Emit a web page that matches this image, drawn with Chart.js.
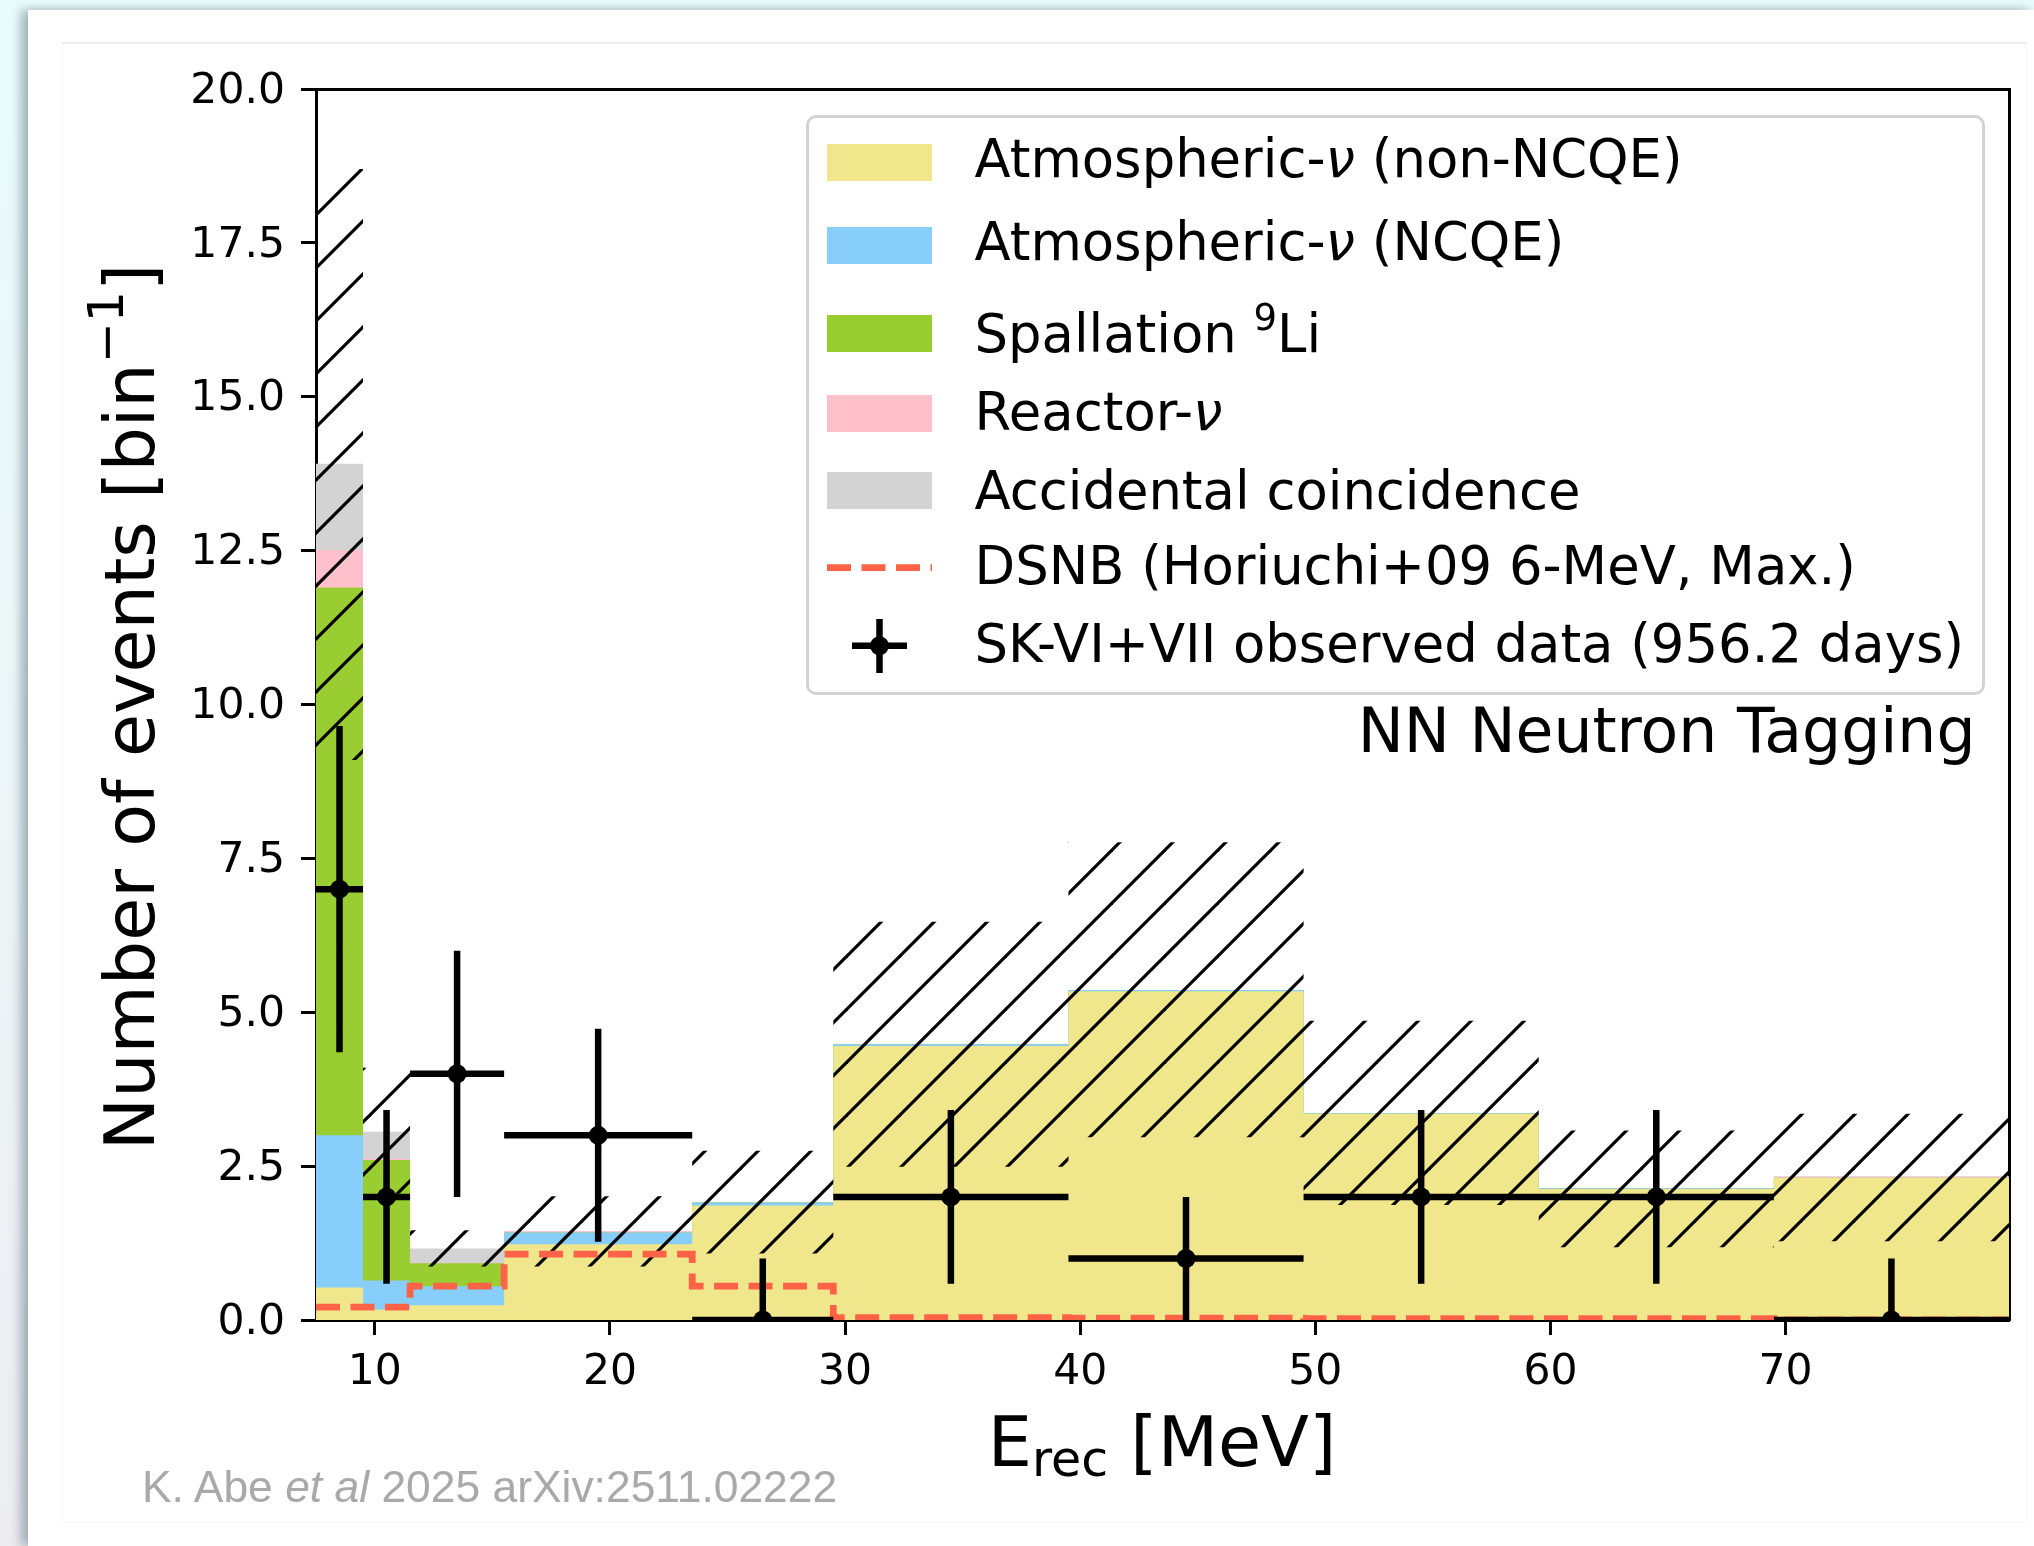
<!DOCTYPE html>
<html>
<head>
<meta charset="utf-8">
<script src="https://cdn.jsdelivr.net/npm/chart.js@4.4.1/dist/chart.umd.min.js"></script>
<style>
html, body { margin:0; padding:0; width:2034px; height:1546px; overflow:hidden; }
body { position:relative; background:linear-gradient(to bottom, #e9fcfc 0%, #edf5f7 55%, #ececf1 100%); font-family:"DejaVu Sans", sans-serif; }
#card { position:absolute; left:28px; top:10px; right:0; bottom:0; background:#fff;
        box-shadow:-7px 0 10px rgba(70,95,105,0.45), 0 -2px 4px rgba(0,0,0,0.04); }
#inner { position:absolute; left:62px; top:42px; width:1965px; height:1481px; box-sizing:border-box;
         border-top:2px solid #ebebeb; border-left:1px solid #f8f8f8; border-right:1px solid #f6f6f6; border-bottom:1px solid #f6f6f6; }
#chart { position:absolute; left:0; top:0; }
.t { position:absolute; white-space:nowrap; font-family:"DejaVu Sans", sans-serif; color:#000; line-height:normal; }
#legend { position:absolute; left:806px; top:115px; width:1179px; height:580px; box-sizing:border-box;
          border:3px solid #d3d3d3; border-radius:10px; background:rgba(255,255,255,0.8); }
.sw { position:absolute; left:827px; width:105px; height:37px; }
.lt { font-size:52.8px; left:974.5px; }
#cite { position:absolute; left:142px; top:1461.8px; font-family:"Liberation Sans", Arial, sans-serif; font-size:44.4px; color:#a9a9a9; white-space:nowrap; line-height:normal; }
</style>
</head>
<body>
<div id="card"></div>
<div id="inner"></div>
<canvas id="chart" width="2034" height="1546"></canvas>

<div id="legend"></div>
<div class="sw" style="top:144px; background:#F0E68C;"></div>
<div class="sw" style="top:227px; background:#87CEFA;"></div>
<div class="sw" style="top:315px; background:#9ACD32;"></div>
<div class="sw" style="top:395px; background:#FFC0CB;"></div>
<div class="sw" style="top:472px; background:#D3D3D3;"></div>
<svg style="position:absolute;left:0;top:0;" width="2034" height="800">
  <line x1="827" y1="567.6" x2="932" y2="567.6" stroke="#FF6347" stroke-width="6.8" stroke-dasharray="24 10.5"/>
  <line x1="879.5" y1="619" x2="879.5" y2="673" stroke="#000" stroke-width="6.5"/>
  <line x1="852" y1="645.7" x2="907" y2="645.7" stroke="#000" stroke-width="6.5"/>
  <circle cx="879.5" cy="645.7" r="9.5" fill="#000"/>
</svg>
<div class="t lt" style="top:128px;">Atmospheric-<i>ν</i> (non-NCQE)</div>
<div class="t lt" style="top:210.5px;">Atmospheric-<i>ν</i> (NCQE)</div>
<div class="t lt" style="top:302.5px;">Spallation <span style="font-size:0.7em;position:relative;top:-0.58em;">9</span>Li</div>
<div class="t lt" style="top:381px;">Reactor-<i>ν</i></div>
<div class="t lt" style="top:459.5px;">Accidental coincidence</div>
<div class="t lt" style="top:535px;">DSNB (Horiuchi+09 6-MeV, Max.)</div>
<div class="t lt" style="top:613px;">SK-VI+VII observed data (956.2 days)</div>

<div class="t" style="font-size:61.6px; right:58.5px; top:694.8px;">NN Neutron Tagging</div>

<div class="t" style="font-size:70px; left:1162px; top:1401px; transform:translateX(-50%);">E<span style="font-size:0.7em;position:relative;top:0.2em;">rec</span> [MeV]</div>
<div class="t" style="font-size:70px; left:-420.2px; top:666.3px; width:1100px; text-align:center; transform:rotate(-90deg);">Number of events [bin<span style="font-size:0.7em;position:relative;top:-0.64em;">−1</span>]</div>

<div id="cite">K. Abe <i>et al</i> 2025 arXiv:2511.02222</div>

<script>
// ---- data ----
const binEdges   = [7.5, 9.5, 11.5, 15.5, 23.5, 29.5, 39.5, 49.5, 59.5, 69.5, 79.5];
const atmNonNCQE = [0.53, 0.17, 0.24, 1.23, 1.86, 4.45, 5.34, 3.35, 2.13, 2.31];
const atmNCQE    = [2.47, 0.47, 0.31, 0.19, 0.05, 0.03, 0.02, 0.01, 0.01, 0.00];
const spallation = [8.90, 1.96, 0.37, 0.00, 0.00, 0.00, 0.00, 0.00, 0.00, 0.00];
const reactor    = [0.61, 0.02, 0.01, 0.02, 0.00, 0.00, 0.00, 0.00, 0.00, 0.02];
const accidental = [1.40, 0.44, 0.23, 0.00, 0.00, 0.00, 0.00, 0.00, 0.00, 0.00];
const bandLow    = [9.10, 2.05, 0.87, 0.87, 1.08, 2.49, 2.97, 1.87, 1.18, 1.28];
const bandHigh   = [18.70, 4.10, 1.46, 2.01, 2.75, 6.47, 7.76, 4.86, 3.08, 3.35];
const dsnb       = [0.21, 0.21, 0.55, 1.07, 0.55, 0.04, 0.03, 0.02, 0.02, 0.00];
const dataE      = [8.5, 10.5, 13.5, 19.5, 26.5, 34.5, 44.5, 54.5, 64.5, 74.5];
const dataN      = [7, 2, 4, 3, 0, 2, 1, 2, 2, 0];
const errDown    = [2.65, 1.41, 2.00, 1.73, 0.00, 1.41, 1.00, 1.41, 1.41, 0.00];
const errUp      = [2.65, 1.41, 2.00, 1.73, 1.00, 1.41, 1.00, 1.41, 1.41, 1.00];
const xTicks     = [10, 20, 30, 40, 50, 60, 70];
const yTicks     = [0, 2.5, 5, 7.5, 10, 12.5, 15, 17.5, 20];
const yTickLabels = ['0.0', '2.5', '5.0', '7.5', '10.0', '12.5', '15.0', '17.5', '20.0'];

// ---- tables built for the library ----
function steps(vals) { return binEdges.map((e, i) => ({ x: e, y: vals[Math.min(i, vals.length - 1)] })); }
function addArr(a, b) { return a.map((v, i) => v + b[i]); }
const cum1 = atmNonNCQE;
const cum2 = addArr(cum1, atmNCQE);
const cum3 = addArr(cum2, spallation);
const cum4 = addArr(cum3, reactor);
const cum5 = addArr(cum4, accidental);

const errV = [], errH = [], dots = [];
dataE.forEach((e, i) => {
  errV.push({ x: e, y: dataN[i] - errDown[i] }, { x: e, y: dataN[i] + errUp[i] }, { x: e, y: null });
  errH.push({ x: binEdges[i], y: dataN[i] }, { x: binEdges[i + 1], y: dataN[i] }, { x: binEdges[i + 1], y: null });
  dots.push({ x: e, y: dataN[i] });
});

const canvas = document.getElementById('chart');
const ctx = canvas.getContext('2d');
function makeHatch() {
  const s = 53, tile = document.createElement('canvas');
  tile.width = s; tile.height = s;
  const g = tile.getContext('2d');
  g.strokeStyle = '#000'; g.lineWidth = 3.2;
  for (const k of [-s, 0, s, 2 * s]) {
    const c = k + 1;
    g.beginPath(); g.moveTo(c + 12, -12); g.lineTo(-12, c + 12); g.stroke();
  }
  return ctx.createPattern(tile, 'repeat');
}
const hatch = makeHatch();

function stackDS(vals, color, order) {
  return { data: steps(vals), stepped: 'before', borderWidth: 0, pointRadius: 0, fill: 'origin',
           backgroundColor: color, borderColor: color, order: order };
}

const F = 'DejaVu Sans';

new Chart(ctx, {
  type: 'line',
  data: {
    datasets: [
      stackDS(cum5, '#D3D3D3', 10),
      stackDS(cum4, '#FFC0CB', 9),
      stackDS(cum3, '#9ACD32', 8),
      stackDS(cum2, '#87CEFA', 7),
      stackDS(cum1, '#F0E68C', 6),
      { data: steps(dsnb), stepped: 'before', borderColor: '#FF6347', borderWidth: 6.8, borderDash: [24, 10.5],
        borderCapStyle: 'butt', pointRadius: 0, fill: false, order: 4 },
      { data: steps(bandHigh), stepped: 'before', borderWidth: 0, pointRadius: 0, fill: '+1',
        backgroundColor: hatch, borderColor: 'rgba(0,0,0,0)', order: 5 },
      { data: steps(bandLow), stepped: 'before', borderWidth: 0, pointRadius: 0, fill: false,
        borderColor: 'rgba(0,0,0,0)', order: 5 },
      { data: errV, borderColor: '#000', borderWidth: 6.5, borderCapStyle: 'butt', pointRadius: 0, spanGaps: false, fill: false, order: 2 },
      { data: errH, borderColor: '#000', borderWidth: 6.5, borderCapStyle: 'butt', pointRadius: 0, spanGaps: false, fill: false, order: 2 },
      { data: dots, showLine: false, pointRadius: 9.5, pointBackgroundColor: '#000', pointBorderWidth: 0,
        borderColor: '#000', clip: 0, fill: false, order: 1 }
    ]
  },
  options: {
    responsive: false,
    maintainAspectRatio: false,
    devicePixelRatio: 1,
    animation: false,
    events: [],
    layout: { padding: { left: 0, right: 25, top: 89, bottom: 0 } },
    plugins: { legend: { display: false }, tooltip: { enabled: false }, title: { display: false } },
    scales: {
      x: {
        type: 'linear', position: 'bottom', min: 7.5, max: 79.5, z: 1,
        afterBuildTicks: s => { s.ticks = xTicks.map(v => ({ value: v })); },
        afterFit: s => { s.height = 226; },
        ticks: { font: { family: F, size: 42.5 }, color: '#000', padding: 12, maxRotation: 0, autoSkip: false, callback: v => String(v) },
        grid: { display: true, drawOnChartArea: false, drawTicks: true, tickLength: 15, tickWidth: 3, tickColor: '#000' },
        border: { display: true, width: 3, color: '#000' }
      },
      y: {
        type: 'linear', position: 'left', min: 0, max: 20, z: 1,
        afterBuildTicks: s => { s.ticks = yTicks.map(v => ({ value: v })); },
        afterFit: s => { s.width = 316; },
        ticks: { font: { family: F, size: 42.5, lineHeight: '5.2px' }, color: '#000', padding: 16, autoSkip: false,
                 callback: v => ['', yTickLabels[yTicks.indexOf(v)]] },
        grid: { display: true, drawOnChartArea: false, drawTicks: true, tickLength: 15, tickWidth: 3, tickColor: '#000' },
        border: { display: true, width: 3, color: '#000' }
      },
      x2: {
        type: 'linear', position: 'top', min: 7.5, max: 79.5, z: 1,
        afterFit: s => { s.height = 0; },
        ticks: { display: false }, grid: { display: false, drawTicks: false },
        border: { display: true, width: 3, color: '#000' }
      },
      y2: {
        type: 'linear', position: 'right', min: 0, max: 20, z: 1,
        afterFit: s => { s.width = 0; },
        ticks: { display: false }, grid: { display: false, drawTicks: false },
        border: { display: true, width: 3, color: '#000' }
      }
    }
  }
});
</script>
</body>
</html>
